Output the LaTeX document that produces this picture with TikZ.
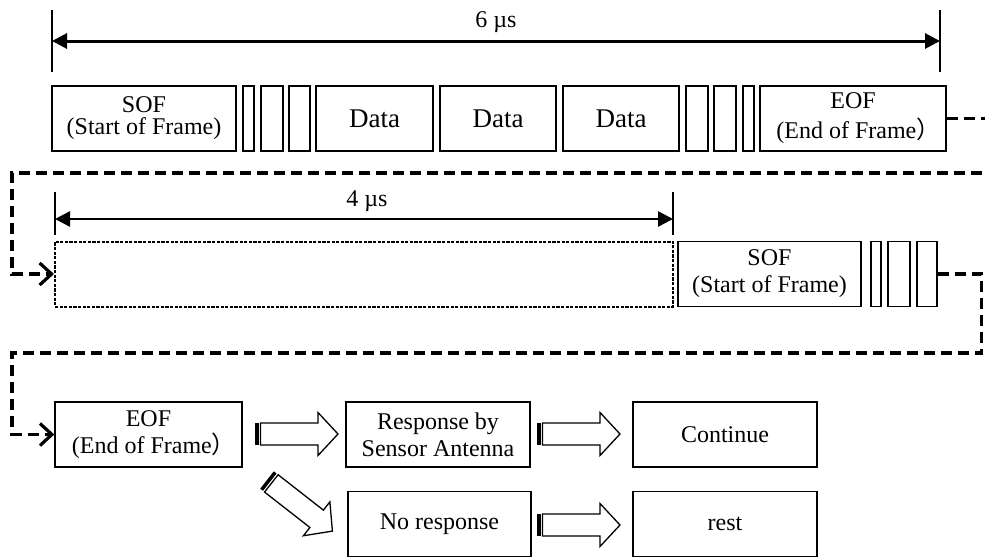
\documentclass[tikz,border=0pt]{standalone}
\usepackage{fontspec}
\setmainfont{Liberation Serif}
\newfontfamily\cjk{Noto Sans CJK SC}
\usetikzlibrary{arrows.meta}

\begin{document}
\begin{tikzpicture}[x=0.5pt,y=-0.5pt,
        font=\fontsize{12pt}{13.5pt}\selectfont,
        box/.style={draw,line width=0.65pt,inner sep=0pt,minimum height=32.5pt,align=center},
        wd/.style={minimum width=#1*0.5pt},
        gapbox/.style={box,line width=1pt,dash pattern=on 1.6pt off 0.7pt},
        span/.style={line width=1.5pt,{Triangle[length=7.5pt,width=7.5pt]}-{Triangle[length=7.5pt,width=7.5pt]}},
        tick/.style={line width=1.2pt},
        link/.style={line width=1.6pt,dash pattern=on 5.5pt off 3pt,-{Straight Barb[length=6pt,width=11pt]}}]
                \def\rowA{118.5}
                \def\rowB{274}
                \def\rowC{434.5}
                \def\rowD{524}
                \def\fatstripe{(0,-11) rectangle (3.5,11)}
                \def\fatbody{(5.5,-11) -- (63,-11) -- (63,-21.5) -- (83,0) -- (63,21.5) -- (63,11) -- (5.5,11) -- cycle}

                \useasboundingbox (0,0) rectangle (985,558);

                % 6 us span
                \draw[tick] (52,10) -- (52,72);
                \draw[tick] (940,10) -- (940,72);
                \coordinate (spanAl) at (52,41);
                \coordinate (spanAr) at (940,41);
                \draw[span] (spanAl) -- (spanAr);
                \node (labA) at (496,22) {6 µs};

                % first frame
                \node[box,wd=184,font=\fontsize{12pt}{11pt}\selectfont] (sof1) at (144,\rowA) {SOF\\(Start of Frame)};
                \node[box,wd=11] (s1) at (248.5,\rowA) {};
                \node[box,wd=22] (s2) at (272,\rowA) {};
                \node[box,wd=21] (s3) at (299.5,\rowA) {};
                \node[box,wd=117,font=\fontsize{13.5pt}{15pt}\selectfont] (data1) at (374.5,\rowA) {Data};
                \node[box,wd=116,font=\fontsize{13.5pt}{15pt}\selectfont] (data2) at (498,\rowA) {Data};
                \node[box,wd=116,font=\fontsize{13.5pt}{15pt}\selectfont] (data3) at (621,\rowA) {Data};
                \node[box,wd=22] (s4) at (697,\rowA) {};
                \node[box,wd=22] (s5) at (725,\rowA) {};
                \node[box,wd=11] (s6) at (748.5,\rowA) {};
                \node[box,wd=186,font=\fontsize{12pt}{15pt}\selectfont] (eof1) at (853,\rowA) {EOF\\(End of Frame{\cjk ）\kern-0.45em}};

                % 4 us span
                \draw[tick] (55,192) -- (55,235);
                \draw[tick] (673,192) -- (673,235);
                \coordinate (spanBl) at (55,219);
                \coordinate (spanBr) at (673,219);
                \draw[span,line width=1.3pt] (spanBl) -- (spanBr);
                \node (labB) at (367,201) {4 µs};

                % second frame
                \node[gapbox,wd=618] (gap) at (364,\rowB) {};
                \node[box,wd=183] (sof2) at (769.5,\rowB) {SOF\\(Start of Frame)};
                \node[box,wd=10] (t1) at (876,\rowB) {};
                \node[box,wd=22] (t2) at (899,\rowB) {};
                \node[box,wd=20] (t3) at (927,\rowB) {};

                % end and outcome
                \node[box,wd=187] (eof2) at (148.5,\rowC) {EOF\\(End of Frame{\cjk ）\kern-0.45em}};
                \node[box,wd=184] (resp) at (438,\rowC) {Response by\\Sensor Antenna};
                \node[box,wd=184] (cont) at (725,\rowC) {Continue};
                \node[box,wd=183] (nores) at (439.5,\rowD) {No response};
                \node[box,wd=184] (rest) at (725,\rowD) {rest};

                % wrap-around links
                \coordinate (wrapA) at (12,173);
                \coordinate (wrapB) at (12,353);
                \draw[link] (eof1.east) -- ++(50,0) |- (wrapA) |- (gap.west);
                \draw[link] (t3.east) -- ++(44,0) |- (wrapB) |- (eof2.west);

                % EOF to response
                \begin{scope}[shift={(255,434)}]
                    \fill \fatstripe;
                    \draw[line width=0.65pt] \fatbody;
                \end{scope}

                % EOF to no response
                \begin{scope}[shift={(267,480)},rotate=-38]
                    \fill \fatstripe;
                    \draw[line width=0.65pt] \fatbody;
                \end{scope}

                % response to continue
                \begin{scope}[shift={(537,434)}]
                    \fill \fatstripe;
                    \draw[line width=0.65pt] \fatbody;
                \end{scope}

                % no response to rest
                \begin{scope}[shift={(537,525)}]
                    \fill \fatstripe;
                    \draw[line width=0.65pt] \fatbody;
                \end{scope}
            \end{tikzpicture}
\end{document}
